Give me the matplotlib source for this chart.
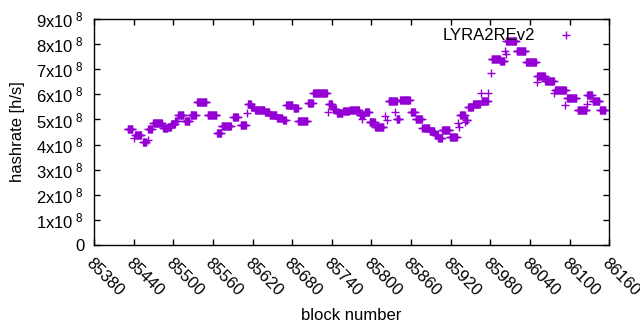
"""Hashrate LYRA2REv2 por numero de bloque, estilo gnuplot."""

import matplotlib
matplotlib.use("Agg")
import matplotlib.pyplot as plt
import numpy as np
from matplotlib.ticker import FuncFormatter, MultipleLocator

plt.rcParams["font.family"] = ["Liberation Sans", "DejaVu Sans"]
plt.rcParams["mathtext.default"] = "regular"

# ── Datos: tramos de bloques con hashrate constante (x1e8 h/s) ───────────────

inicio_tramo = [
    85431, 85440, 85442, 85454, 85461, 85462, 85469, 85485, 85492, 85497,
    85503, 85507, 85517, 85526, 85536, 85552, 85566, 85573, 85591, 85602,
    85612, 85613, 85618, 85624, 85639, 85646, 85657, 85666, 85671, 85682,
    85689, 85704, 85712, 85734, 85735, 85741, 85748, 85757, 85767, 85782,
    85785, 85790, 85797, 85806, 85820, 85824, 85826, 85836, 85838, 85843,
    85860, 85867, 85877, 85888, 85896, 85901, 85907, 85919, 85931, 85932,
    85934, 85942, 85943, 85946, 85954, 85966, 85967, 85977, 85981, 85982,
    85995, 86002, 86003, 86004, 86020, 86034, 86050, 86051, 86063, 86077,
    86078, 86093, 86096, 86112, 86126, 86127, 86135, 86146,
]
largo_tramo = [
    8, 1, 10, 6, 1, 6, 15, 7, 5, 6,
    4, 9, 8, 9, 15, 14, 7, 15, 8, 9,
    1, 5, 5, 15, 7, 11, 9, 5, 10, 7,
    15, 8, 21, 1, 6, 6, 9, 10, 15, 7,
    1, 7, 9, 13, 1, 1, 13, 1, 5, 16,
    7, 10, 11, 8, 5, 6, 12, 11, 1, 1,
    8, 1, 3, 8, 11, 1, 10, 1, 1, 13,
    7, 1, 1, 16, 14, 16, 1, 12, 14, 1,
    17, 1, 15, 14, 1, 8, 11, 9,
]
valor_tramo = [
    4.62, 4.28, 4.40, 4.12, 4.20, 4.60, 4.84, 4.64, 4.70, 4.80,
    4.95, 5.16, 4.92, 5.16, 5.68, 5.16, 4.46, 4.74, 5.10, 4.76,
    5.24, 5.60, 5.48, 5.38, 5.30, 5.16, 5.04, 4.96, 5.56, 5.44,
    4.92, 5.64, 6.04, 5.28, 5.60, 5.40, 5.26, 5.32, 5.36, 5.16,
    5.00, 5.28, 4.88, 4.68, 5.12, 4.96, 5.72, 5.28, 5.00, 5.76,
    5.28, 5.00, 4.64, 4.52, 4.40, 4.28, 4.56, 4.32, 4.84, 4.68,
    5.16, 4.88, 4.96, 5.48, 5.60, 6.04, 5.72, 6.04, 6.84, 7.42,
    7.32, 7.72, 7.60, 8.12, 7.72, 7.28, 6.48, 6.72, 6.52, 6.04,
    6.16, 5.56, 5.84, 5.36, 5.60, 5.96, 5.72, 5.36,
]

COLOR = "#9400d3"


def _formato_y(valor, _pos):
    n = int(round(valor / 1e8))
    return "0" if n == 0 else f"{n}x10$^{{\\ 8}}$"


def main() -> None:
    bloques = np.concatenate(
        [np.arange(s, s + n) for s, n in zip(inicio_tramo, largo_tramo)]
    )
    hashrate = np.repeat(np.array(valor_tramo) * 1e8, largo_tramo)

    fig = plt.figure(figsize=(6.4, 3.3), dpi=100)
    ax = fig.add_axes([0.147, 0.258, 0.805, 0.684])
    ax.plot(bloques, hashrate, linestyle="none", marker="+", color=COLOR,
            markersize=6, markeredgewidth=1.0, label="LYRA2REv2")

    ax.set_xlim(85380, 86160)
    ax.set_ylim(0, 9e8)
    ax.xaxis.set_major_locator(MultipleLocator(60))
    ax.yaxis.set_major_locator(MultipleLocator(1e8))
    ax.yaxis.set_major_formatter(FuncFormatter(_formato_y))
    ax.tick_params(direction="in", top=True, right=True, length=4,
                   width=1, labelsize=12, colors="black")
    ax.tick_params(axis="x", pad=8)
    ax.tick_params(axis="y", pad=7)
    for lado in ax.spines.values():
        lado.set_linewidth(1)

    for etiqueta in ax.get_xticklabels():
        etiqueta.set_rotation(-45)
        etiqueta.set_rotation_mode("anchor")
        etiqueta.set_ha("left")
        etiqueta.set_va("top")

    ax.set_xlabel("block number", fontsize=12, labelpad=6)
    ax.set_ylabel("hashrate [h/s]", fontsize=12, labelpad=8)

    ax.legend(loc="upper right", frameon=False, markerfirst=False,
              fontsize=12, handlelength=2.5, handletextpad=0.6,
              bbox_to_anchor=(0.985, 1.025))

    fig.savefig("out.png", dpi=100)
    plt.close(fig)


if __name__ == "__main__":
    main()
